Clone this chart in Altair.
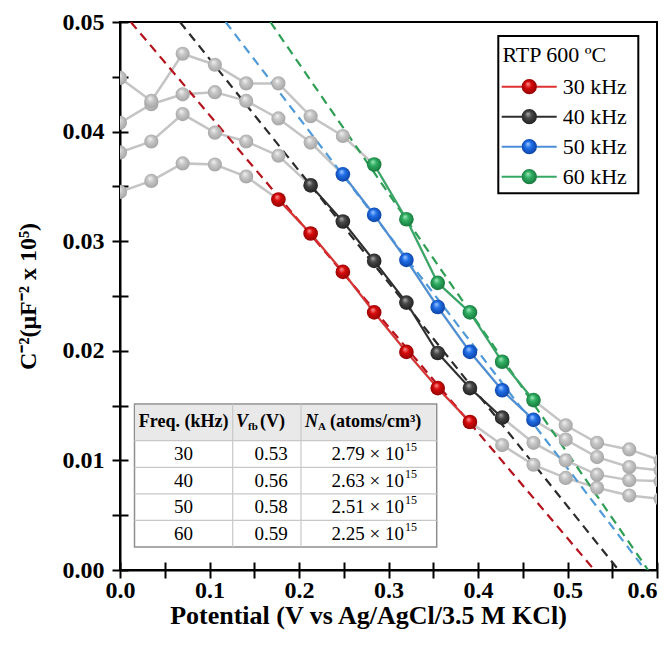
import altair as alt
import pandas as pd

# ---------------- data ----------------
potential = [0.0, 0.035, 0.07, 0.106, 0.141, 0.177, 0.213, 0.249, 0.284, 0.32,
             0.355, 0.391, 0.427, 0.462, 0.498, 0.533, 0.569, 0.604]
c2_30 = [0.0345, 0.0355, 0.0371, 0.0370, 0.0359, 0.0338, 0.0307, 0.0272, 0.0235, 0.0199,
         0.0166, 0.0135, 0.0114, 0.0096, 0.0084, 0.0075, 0.0068, 0.0065]
c2_40 = [0.0381, 0.0391, 0.0416, 0.0399, 0.0391, 0.0378, 0.0351, 0.0318, 0.0282, 0.0244,
         0.0198, 0.0166, 0.0139, 0.0116, 0.0100, 0.0087, 0.0082, 0.0081]
c2_50 = [0.0408, 0.0425, 0.0434, 0.0436, 0.0428, 0.0412, 0.0390, 0.0361, 0.0324, 0.0283,
         0.0240, 0.0199, 0.0164, 0.0137, 0.0119, 0.0103, 0.0094, 0.0091]
c2_60 = [0.0449, 0.0428, 0.0471, 0.0461, 0.0444, 0.0444, 0.0414, 0.0396, 0.0370, 0.0320,
         0.0262, 0.0235, 0.0190, 0.0155, 0.0132, 0.0116, 0.0110, 0.0100]

freqs = ["30 kHz", "40 kHz", "50 kHz", "60 kHz"]
series = [c2_30, c2_40, c2_50, c2_60]
colored_first = [5, 6, 7, 8]
colored_last = [11, 12, 13, 13]

# Mott-Schottky fit lines: potential where line meets 0.05, and x-intercept
fit_top_v = [0.012, 0.067, 0.118, 0.168]
fit_zero_v = [0.530, 0.557, 0.587, 0.590]

table_freq = ["30", "40", "50", "60"]
table_vfb = ["0.53", "0.56", "0.58", "0.59"]
table_na = ["2.79", "2.63", "2.51", "2.25"]
table_exp = "15"

legend_title = "RTP 600 ºC"

# ---------------- styles ----------------
FONT = "Liberation Serif"
marker_base = ["#d60a0a", "#474747", "#1f6fe8", "#2fae62"]
marker_light = ["#ff9a9a", "#b0b0b0", "#a8ccff", "#a6eac0"]
marker_dark = ["#860000", "#1a1a1a", "#0a3a99", "#146e36"]
line_colors = ["#dd3030", "#2e2e2e", "#4a8fd8", "#35a865"]
dash_colors = ["#b5121b", "#2b2b2b", "#4f9ad8", "#2f9e55"]
GRAY_LINE = "#c4c4c4"


def sphere(base, light, dark):
    return {"gradient": "radial", "x1": 0.4, "y1": 0.3, "r1": 0.0,
            "x2": 0.5, "y2": 0.5, "r2": 0.58,
            "stops": [{"offset": 0.0, "color": light},
                      {"offset": 0.38, "color": base},
                      {"offset": 1.0, "color": dark}]}


GRAY_SPHERE = sphere("#c8c8c8", "#f4f4f4", "#9e9e9e")

rows = []
for i, f in enumerate(freqs):
    for j, (v, c) in enumerate(zip(potential, series[i])):
        rows.append({"freq": f, "V": v, "C": c,
                     "colored": colored_first[i] <= j <= colored_last[i]})
df = pd.DataFrame(rows)

fit_rows = []
for i, f in enumerate(freqs):
    fit_rows.append({"freq": f, "V": fit_top_v[i], "C": 0.05})
    fit_rows.append({"freq": f, "V": fit_zero_v[i], "C": 0.0})
fit_df = pd.DataFrame(fit_rows)

xticks = [round(k * 0.05, 2) for k in range(13)]
yticks = [round(k * 0.005, 3) for k in range(11)]
xscale = alt.Scale(domain=[0, 0.6], nice=False, zero=False)
yscale = alt.Scale(domain=[0, 0.05], nice=False, zero=False)

common_axis = dict(grid=False, tickColor="black", tickWidth=2, domainColor="black",
                   domainWidth=2, labelFont=FONT, labelFontWeight="bold", labelFontSize=24,
                   labelColor="black", titleFont=FONT, titleFontWeight="bold",
                   titleColor="black", labelOverlap=False)

x_main = alt.X("V:Q", scale=xscale, axis=alt.Axis(
    values=xticks, orient="bottom", tickSize=8, labelPadding=0, labelFlush=False,
    labelAlign={"condition": {"test": "datum.value > 0.59", "value": "right"},
                "value": "center"},
    labelExpr="round(datum.value*100) % 10 == 0 ? format(datum.value, '.1f') : ''",
    title="Potential (V vs Ag/AgCl/3.5 M KCl)", titleFontSize=26, titleX=248, titleY=45,
    titleBaseline="middle", **common_axis))
y_main = alt.Y("C:Q", scale=yscale, axis=alt.Axis(
    values=yticks, orient="left", tickSize=8, labelPadding=8,
    labelExpr="round(datum.value*1000) % 10 == 0 ? format(datum.value, '.2f') : ''",
    title="C⁻²(μF⁻² x 10⁵)", titleFontSize=24, titleX=-92, titleY=274,
    titleBaseline="middle", **common_axis))
x_inner = alt.X("V:Q", scale=xscale, title=None, axis=alt.Axis(
    values=xticks, orient="bottom", offset=-8, tickSize=8, labels=False, domain=False,
    grid=False, tickColor="black", tickWidth=2))
y_inner = alt.Y("C:Q", scale=yscale, title=None, axis=alt.Axis(
    values=yticks, orient="left", offset=-8, tickSize=8, labels=False, domain=False,
    grid=False, tickColor="black", tickWidth=2))
x_plain = alt.X("V:Q", scale=xscale, axis=None)
y_plain = alt.Y("C:Q", scale=yscale, axis=None)

layers = []
layers.append(alt.Chart(df).mark_line(color=GRAY_LINE, strokeWidth=2.5, clip=True).encode(
    x=x_main, y=y_main, detail="freq:N"))

for i, f in enumerate(freqs):
    sub = fit_df[fit_df.freq == f]
    layers.append(alt.Chart(sub).mark_line(color=dash_colors[i], strokeWidth=2.2,
                                           strokeDash=[9, 6], clip=True).encode(
        x=x_inner if i == 0 else x_plain, y=y_inner if i == 0 else y_plain))

for i, f in enumerate(freqs):
    sub = df[(df.freq == f) & (df.colored)]
    layers.append(alt.Chart(sub).mark_line(color=line_colors[i], strokeWidth=2, clip=True).encode(
        x=x_plain, y=y_plain))

layers.append(alt.Chart(df[~df.colored]).mark_point(
    filled=True, fill=GRAY_SPHERE, opacity=1, size=200, strokeWidth=0, clip=True).encode(
    x=x_plain, y=y_plain))

for i, f in enumerate(freqs):
    sub = df[(df.freq == f) & (df.colored)]
    layers.append(alt.Chart(sub).mark_point(
        filled=True, fill=sphere(marker_base[i], marker_light[i], marker_dark[i]),
        opacity=1, size=215, strokeWidth=0, clip=True).encode(x=x_plain, y=y_plain))

# ---------------- inset table (pixel layout inside plot area) ----------------
one = pd.DataFrame({"k": [0]})
T_L, T_R, T_T, T_B = 14.5, 316.7, 382.0, 525.0
HEAD_B = 418.7
ROW_H = (T_B - HEAD_B) / 4
COL1, COL2 = 112.7, 181.0

layers.append(alt.Chart(one).mark_rect(fill="white", stroke="#8f8f8f", strokeWidth=1.5).encode(
    x=alt.value(T_L), x2=alt.value(T_R), y=alt.value(T_T), y2=alt.value(T_B)))
layers.append(alt.Chart(one).mark_rect(fill="#e9e9e9").encode(
    x=alt.value(T_L + 1), x2=alt.value(T_R - 1), y=alt.value(T_T + 1), y2=alt.value(HEAD_B)))

hlines = pd.DataFrame({"py": [HEAD_B + ROW_H * k for k in range(4)]})
layers.append(alt.Chart(hlines).mark_rule(color="#c8c8c8", strokeWidth=1.2).encode(
    y=alt.Y("py:Q", scale=None), x=alt.value(T_L), x2=alt.value(T_R)))
vlines = pd.DataFrame({"px": [COL1, COL2]})
layers.append(alt.Chart(vlines).mark_rule(color="#c8c8c8", strokeWidth=1.2).encode(
    x=alt.X("px:Q", scale=None), y=alt.value(T_T), y2=alt.value(T_B)))

head_y = (T_T + HEAD_B) / 2
hdr = dict(font=FONT, fontWeight="bold", fontSize=18, color="black", baseline="middle")
layers.append(alt.Chart(one).mark_text(align="center", **hdr).encode(
    x=alt.value((T_L + COL1) / 2), y=alt.value(head_y), text=alt.value("Freq. (kHz)")))
layers.append(alt.Chart(one).mark_text(align="left", fontStyle="italic", **hdr).encode(
    x=alt.value(116), y=alt.value(head_y), text=alt.value("V")))
layers.append(alt.Chart(one).mark_text(align="left", font=FONT, fontWeight="bold", fontSize=11,
                                       color="black", baseline="middle", dy=5).encode(
    x=alt.value(128), y=alt.value(head_y), text=alt.value("fb")))
layers.append(alt.Chart(one).mark_text(align="left", **hdr).encode(
    x=alt.value(140), y=alt.value(head_y), text=alt.value("(V)")))
layers.append(alt.Chart(one).mark_text(align="left", fontStyle="italic", **hdr).encode(
    x=alt.value(185), y=alt.value(head_y), text=alt.value("N")))
layers.append(alt.Chart(one).mark_text(align="left", font=FONT, fontWeight="bold", fontSize=11,
                                       color="black", baseline="middle", dy=5).encode(
    x=alt.value(198), y=alt.value(head_y), text=alt.value("A")))
layers.append(alt.Chart(one).mark_text(align="left", **hdr).encode(
    x=alt.value(210), y=alt.value(head_y), text=alt.value("(atoms/cm³)")))

tbl = pd.DataFrame({"freq": table_freq, "vfb": table_vfb,
                    "na": [m + " × 10" for m in table_na], "exp": [table_exp] * 4,
                    "py": [HEAD_B + ROW_H * (k + 0.5) for k in range(4)]})
cell = dict(font=FONT, fontSize=19, color="black", baseline="middle")
layers.append(alt.Chart(tbl).mark_text(align="center", **cell).encode(
    x=alt.value((T_L + COL1) / 2), y=alt.Y("py:Q", scale=None), text="freq:N"))
layers.append(alt.Chart(tbl).mark_text(align="center", **cell).encode(
    x=alt.value(151), y=alt.Y("py:Q", scale=None), text="vfb:N"))
layers.append(alt.Chart(tbl).mark_text(align="right", **cell).encode(
    x=alt.value(284), y=alt.Y("py:Q", scale=None), text="na:N"))
layers.append(alt.Chart(tbl).mark_text(align="left", font=FONT, fontSize=12, color="black",
                                       baseline="middle", dy=-7).encode(
    x=alt.value(285), y=alt.Y("py:Q", scale=None), text="exp:N"))

# ---------------- legend ----------------
L_L, L_R, L_T, L_B = 378.3, 518.3, 14.0, 171.3
layers.append(alt.Chart(one).mark_rect(fill="white", stroke="black", strokeWidth=2).encode(
    x=alt.value(L_L), x2=alt.value(L_R), y=alt.value(L_T), y2=alt.value(L_B)))
layers.append(alt.Chart(one).mark_text(align="left", baseline="middle", font=FONT, fontSize=22,
                                       color="black").encode(
    x=alt.value(382.5), y=alt.value(33), text=alt.value(legend_title)))
for i, f in enumerate(freqs):
    ly = 64.7 + 30 * i
    layers.append(alt.Chart(one).mark_rule(color=line_colors[i], strokeWidth=2).encode(
        x=alt.value(381.7), x2=alt.value(436.7), y=alt.value(ly)))
    layers.append(alt.Chart(one).mark_point(
        filled=True, fill=sphere(marker_base[i], marker_light[i], marker_dark[i]),
        opacity=1, size=230, strokeWidth=0).encode(x=alt.value(409.3), y=alt.value(ly)))
    layers.append(alt.Chart(one).mark_text(align="left", baseline="middle", font=FONT,
                                           fontSize=22, color="black").encode(
        x=alt.value(442.7), y=alt.value(ly), text=alt.value(f)))

chart = alt.layer(*layers).resolve_axis(x="independent", y="independent").properties(
    width=537, height=548,
    autosize=alt.AutoSizeParams(type="none"),
    padding={"left": 112, "top": 14, "right": 5, "bottom": 70},
).configure_view(stroke="black", strokeWidth=2)

chart.save("out.html", embed_options={"renderer": "svg", "actions": False})
